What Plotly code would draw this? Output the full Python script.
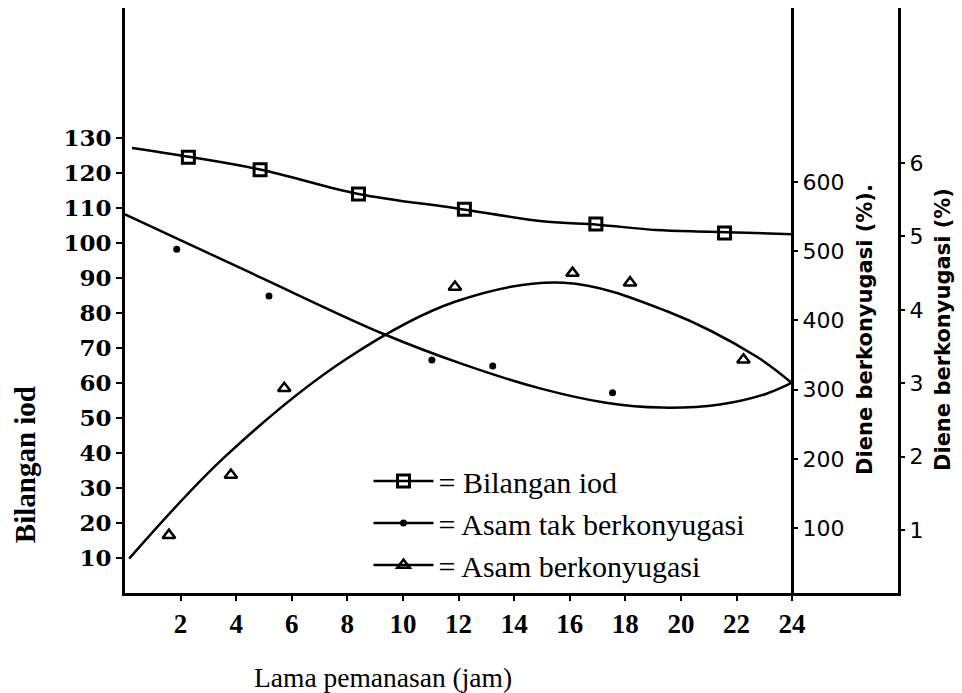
import plotly.graph_objects as go

# ---- data (hours of heating) ----
# Bilangan iod (left axis)
iod_h = [2.28, 4.86, 8.40, 12.21, 16.94, 21.57]
iod_v = [124.5, 120.9, 114.0, 109.6, 105.4, 102.8]
iod_curve_h = [0.25, 2.3, 4.9, 8.4, 11.9, 15.1, 17.0, 19.1, 21.0, 24.0]
iod_curve_v = [127.1, 124.6, 120.9, 114.0, 109.9, 106.1, 105.2, 103.7, 103.2, 102.5]

# Asam tak berkonyugasi (right axis 100-600)
tak_h = [1.86, 5.18, 11.04, 13.23, 17.54]
tak_v = [502.7, 435.3, 342.8, 334.1, 295.5]
tak_curve_h = [0.0, 4.61, 9.24, 12.2, 15.0, 17.3, 19.3, 21.4, 23.0, 24.0]
tak_curve_v = [553.3, 467.1, 381.4, 336.0, 301.0, 281.0, 274.0, 278.5, 293.0, 310.0]

# Asam berkonyugasi (right axis 1-6)
ber_h = [1.58, 3.81, 5.73, 11.87, 16.10, 18.17, 22.25]
ber_v = [0.93, 1.75, 2.93, 4.31, 4.50, 4.37, 3.32]
ber_curve_h = [0.15, 3.6, 7.92, 11.87, 15.8, 19.5, 22.73, 24.0]
ber_curve_v = [0.61, 2.00, 3.32, 4.11, 4.37, 3.98, 3.36, 3.00]

x_ticks = [2, 4, 6, 8, 10, 12, 14, 16, 18, 20, 22, 24]
left_ticks = [10, 20, 30, 40, 50, 60, 70, 80, 90, 100, 110, 120, 130]
right1_ticks = [100, 200, 300, 400, 500, 600]
right2_ticks = [1, 2, 3, 4, 5, 6]

names = ["= Bilangan iod", "= Asam tak berkonyugasi", "= Asam berkonyugasi"]

BLACK = "#000000"
SERIF = "Liberation Serif"

fig = go.Figure()

def add_series(ch, cv, ph, pv, axis, symbol, size, lw, name):
    # fitted curve (carries legend entry; its own markers hidden)
    fig.add_trace(go.Scatter(
        x=ch, y=cv, yaxis=axis, mode="lines+markers", name=name,
        line=dict(color=BLACK, width=2.5, shape="spline", smoothing=1.0),
        marker=dict(symbol=symbol, size=size, color=BLACK, line=dict(color=BLACK, width=lw)),
        selectedpoints=[], unselected=dict(marker=dict(opacity=0)),
        hoverinfo="skip"))
    # measured points
    fig.add_trace(go.Scatter(
        x=ph, y=pv, yaxis=axis, mode="markers", showlegend=False,
        marker=dict(symbol=symbol, size=size, color=BLACK, line=dict(color=BLACK, width=lw))))

add_series(iod_curve_h, iod_curve_v, iod_h, iod_v, "y", "square-open", 12, 3, names[0])
add_series(tak_curve_h, tak_curve_v, tak_h, tak_v, "y2", "circle", 7, 0, names[1])
add_series(ber_curve_h, ber_curve_v, ber_h, ber_v, "y3", "triangle-up-open", 11, 2.5, names[2])

axis_line = dict(showline=True, linecolor=BLACK, linewidth=3, showgrid=False, zeroline=False,
                 ticks="outside", tickcolor=BLACK, tickwidth=2)

fig.update_layout(
    width=962, height=693,
    margin=dict(l=125, r=64, t=8, b=100),
    paper_bgcolor="white", plot_bgcolor="white",
    showlegend=True,
    legend=dict(x=0.315, y=0.236, xanchor="left", yanchor="top",
                bgcolor="rgba(0,0,0,0)", borderwidth=0,
                font=dict(family=SERIF, size=30, color=BLACK),
                itemwidth=60, tracegroupgap=0),
    xaxis=dict(range=[0, 27.81], tickvals=x_ticks, ticklen=5,
               tickfont=dict(family=SERIF, size=27, color=BLACK, weight="bold"),
               **axis_line),
    yaxis=dict(range=[0, 167.1], tickvals=left_ticks, ticklen=6,
               tickfont=dict(family="DejaVu Serif", size=23, color=BLACK, weight="bold"),
               **axis_line),
    yaxis2=dict(range=[6.1, 851.4], tickvals=right1_ticks, overlaying="y", side="right",
                anchor="free", position=0.8629, ticklen=4,
                tickfont=dict(family="DejaVu Sans", size=22, color=BLACK),
                **axis_line),
    yaxis3=dict(range=[0.142, 8.112], tickvals=right2_ticks, overlaying="y", side="right",
                anchor="x", ticklen=4,
                tickfont=dict(family="DejaVu Sans", size=22, color=BLACK),
                **axis_line),
    annotations=[
        dict(text="Bilangan iod", xref="paper", yref="paper", x=-0.129, y=0.219,
             textangle=-90, showarrow=False, xanchor="center", yanchor="middle",
             font=dict(family=SERIF, size=29, color=BLACK, weight="bold")),
        dict(text="Lama pemanasan (jam)", xref="paper", yref="paper", x=0.334, y=-0.1436,
             showarrow=False, xanchor="center", yanchor="middle",
             font=dict(family=SERIF, size=27.5, color=BLACK)),
        dict(text="Diene berkonyugasi (%).", xref="paper", yref="paper", x=0.957, y=0.451,
             textangle=-90, showarrow=False, xanchor="center", yanchor="middle",
             font=dict(family="DejaVu Sans", size=21, color=BLACK, weight="bold")),
        dict(text="Diene berkonyugasi (%)", xref="paper", yref="paper", x=1.058, y=0.451,
             textangle=-90, showarrow=False, xanchor="center", yanchor="middle",
             font=dict(family="DejaVu Sans", size=21, color=BLACK, weight="bold")),
    ],
)

fig.write_html("out.html")
